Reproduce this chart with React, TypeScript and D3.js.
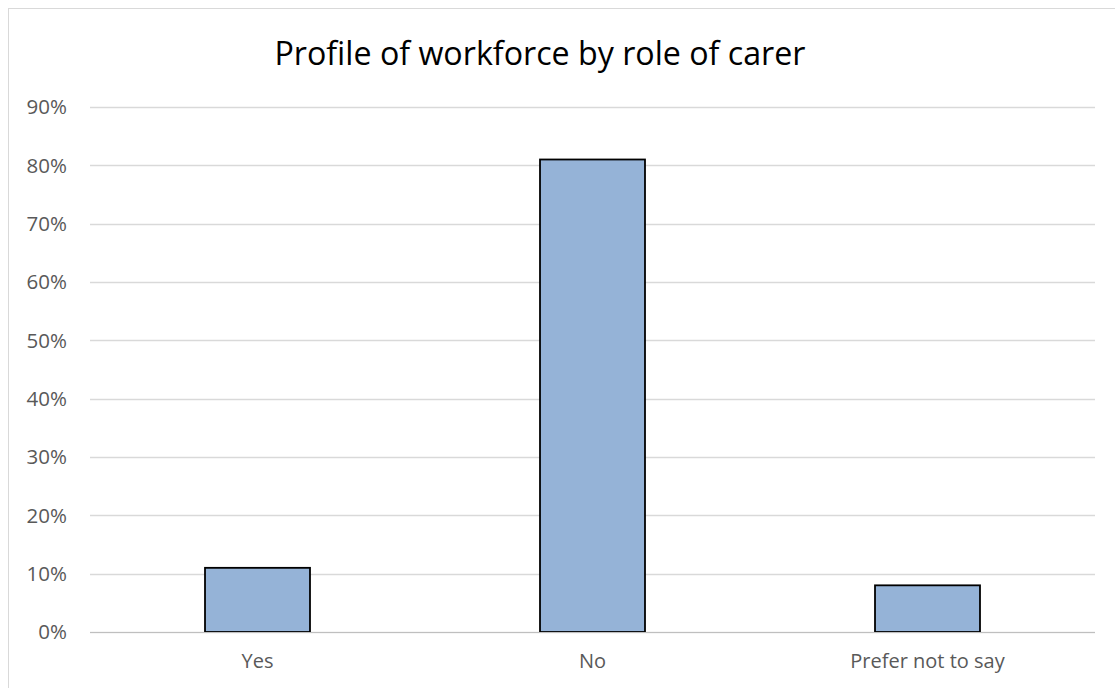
import React from "react";
import * as d3 from "d3";

const categories: string[] = ["Yes", "No", "Prefer not to say"];
const values: number[] = [0.11, 0.81, 0.08];
const yTicks: number[] = [0, 0.1, 0.2, 0.3, 0.4, 0.5, 0.6, 0.7, 0.8, 0.9];
const title = "Profile of workforce by role of carer";

export default function App() {
  const W = 1115;
  const H = 688;
  const left = 90;
  const right = 1095;
  const top = 107;
  const bottom = 632;

  const x = d3
    .scaleBand<string>()
    .domain(categories)
    .range([left, right])
    .paddingInner(0.6866)
    .paddingOuter(0.3433);
  const y = d3.scaleLinear().domain([0, 0.9]).range([bottom, top]);
  const fmt = d3.format(".0%");
  const font = "'Open Sans', sans-serif";

  return (
    <svg
      width={W}
      height={H}
      style={{ position: "absolute", left: 0, top: 0, display: "block" }}
    >
      <rect x={0} y={0} width={W} height={H} fill="#ffffff" />
      <rect
        x={8.5}
        y={8.5}
        width={W}
        height={H}
        fill="#ffffff"
        stroke="#d9d9d9"
        strokeWidth={1}
      />
      <text
        x={540}
        y={65}
        textAnchor="middle"
        fontFamily={font}
        fontSize={32.2}
        fill="#000000"
      >
        {title}
      </text>
      {yTicks.map((t) => (
        <g key={t}>
          <line
            x1={left}
            x2={right}
            y1={Math.round(y(t)) + 0.5}
            y2={Math.round(y(t)) + 0.5}
            stroke="#d9d9d9"
            strokeWidth={1.5}
          />
          <text
            x={67}
            y={y(t)}
            dy="0.36em"
            textAnchor="end"
            fontFamily={font}
            fontSize={20.5}
            fill="#595959"
          >
            {fmt(t)}
          </text>
        </g>
      ))}
      {categories.map((c, i) => (
        <g key={c}>
          <rect
            x={x(c)!}
            y={y(values[i])}
            width={x.bandwidth()}
            height={bottom - y(values[i])}
            fill="#95b3d7"
            stroke="#000000"
            strokeWidth={1.8}
          />
          <text
            x={x(c)! + x.bandwidth() / 2}
            y={668}
            textAnchor="middle"
            fontFamily={font}
            fontSize={20}
            fill="#595959"
          >
            {c}
          </text>
        </g>
      ))}
      <line
        x1={left}
        x2={right}
        y1={bottom + 0.5}
        y2={bottom + 0.5}
        stroke="#bfbfbf"
        strokeWidth={1}
      />
    </svg>
  );
}
